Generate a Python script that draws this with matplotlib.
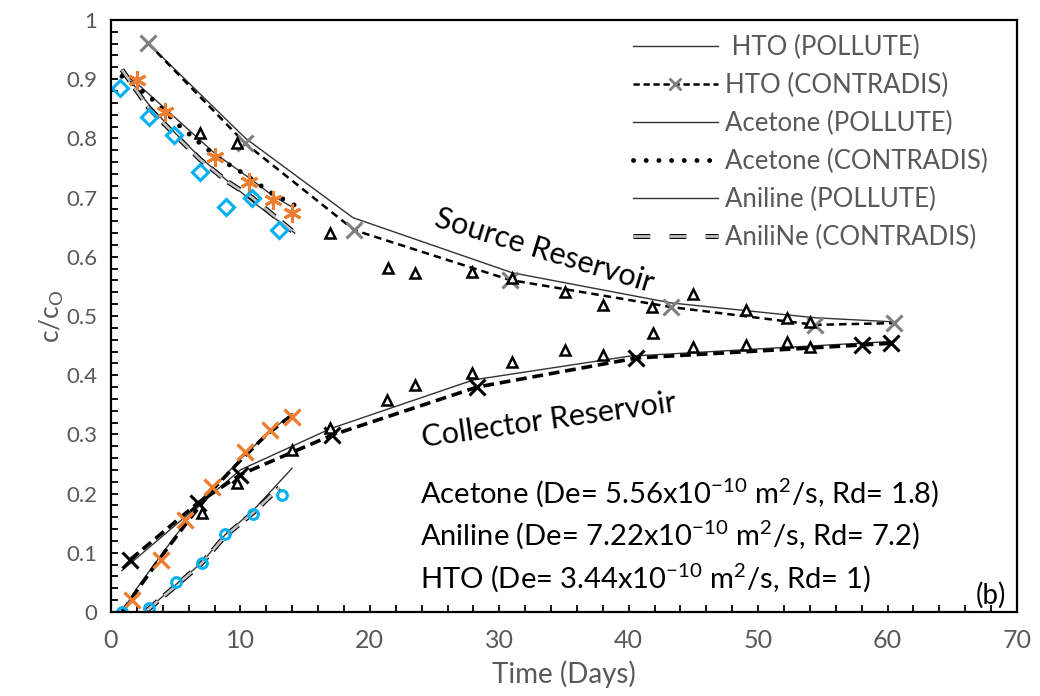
import matplotlib
matplotlib.use("Agg")
import matplotlib.pyplot as plt
import matplotlib.patheffects as pe
from matplotlib.lines import Line2D
from matplotlib.ticker import MultipleLocator

plt.rcParams['font.family'] = ['Lato', 'DejaVu Sans']
plt.rcParams['mathtext.fontset'] = 'custom'
plt.rcParams['mathtext.rm'] = 'Lato'

GRAY_TXT = '#595959'
ORANGE = '#ED7D31'
BLUE = '#00B0F0'
XGRAY = '#7f7f7f'

# ---- HTO ----
hto_src_pol_t = [2.86, 10.4, 18.7, 31.0, 43.3, 54.4, 60.5]
hto_src_pol_c = [0.961, 0.800, 0.666, 0.573, 0.522, 0.497, 0.490]
hto_src_con_t = [2.86, 10.35, 18.8, 30.8, 43.3, 54.4, 60.5]
hto_src_con_c = [0.961, 0.792, 0.645, 0.561, 0.515, 0.485, 0.488]
hto_col_pol_t = [0.85, 10.0, 17.0, 28.0, 40.0, 60.3]
hto_col_pol_c = [0.070, 0.240, 0.310, 0.392, 0.432, 0.457]
hto_col_con_t = [1.47, 6.7, 10.0, 17.1, 28.3, 40.6, 58.0, 60.3]
hto_col_con_c = [0.088, 0.184, 0.232, 0.299, 0.380, 0.429, 0.451, 0.454]

# measured HTO (triangles)
hto_src_obs_t = [6.9, 9.7, 16.9, 21.4, 23.5, 27.9, 31.0, 35.1, 38.0, 41.8, 45.0, 49.1, 52.2, 54.0]
hto_src_obs_c = [0.809, 0.792, 0.640, 0.581, 0.573, 0.574, 0.564, 0.541, 0.519, 0.515, 0.537, 0.510, 0.497, 0.490]
hto_col_obs_t = [7.0, 9.7, 14.0, 16.9, 21.3, 23.5, 27.9, 31.0, 35.1, 38.0, 41.9, 45.0, 49.1, 52.2, 54.0]
hto_col_obs_c = [0.167, 0.218, 0.274, 0.311, 0.358, 0.383, 0.404, 0.422, 0.442, 0.434, 0.471, 0.448, 0.451, 0.456, 0.448]

# ---- Acetone ----
ace_src_pol_t = [0.85, 2.0, 4.2, 8.0, 10.7, 12.5, 14.0]
ace_src_pol_c = [0.910, 0.893, 0.850, 0.775, 0.733, 0.703, 0.684]
ace_src_con_t = [0.85, 2.9, 5.4, 7.3, 9.3, 10.3, 12.3, 14.2]
ace_src_con_c = [0.905, 0.872, 0.819, 0.784, 0.753, 0.740, 0.709, 0.687]
ace_src_obs_t = [2.0, 4.2, 8.0, 10.7, 12.5, 14.0]
ace_src_obs_c = [0.899, 0.845, 0.769, 0.726, 0.696, 0.674]
ace_col_pol_t = [0.85, 2.0, 4.0, 6.0, 8.0, 10.0, 12.0, 14.0]
ace_col_pol_c = [0.000, 0.040, 0.100, 0.158, 0.212, 0.258, 0.300, 0.335]
ace_col_con_t = [0.85, 2.0, 4.0, 6.0, 8.0, 10.0, 12.0, 14.0]
ace_col_con_c = [0.000, 0.036, 0.097, 0.155, 0.210, 0.256, 0.299, 0.333]
ace_col_obs_t = [1.6, 3.9, 5.7, 7.8, 10.35, 12.3, 14.0]
ace_col_obs_c = [0.020, 0.088, 0.155, 0.211, 0.270, 0.307, 0.329]

# ---- Aniline ----
ani_src_pol_t = [0.85, 3.0, 5.0, 7.0, 9.0, 11.0, 14.2]
ani_src_pol_c = [0.916, 0.855, 0.808, 0.766, 0.728, 0.692, 0.640]
ani_src_con_t = [0.85, 2.9, 5.0, 6.9, 9.0, 10.9, 14.2]
ani_src_con_c = [0.916, 0.852, 0.805, 0.764, 0.727, 0.700, 0.640]
ani_src_obs_t = [0.7, 2.9, 4.9, 6.9, 8.9, 10.9, 13.0]
ani_src_obs_c = [0.885, 0.836, 0.806, 0.743, 0.684, 0.699, 0.645]
ani_col_pol_t = [2.8, 5.0, 7.0, 8.8, 11.0, 14.0]
ani_col_pol_c = [0.003, 0.046, 0.083, 0.130, 0.172, 0.243]
ani_col_con_t = [2.8, 5.0, 7.0, 8.8, 11.0, 13.0]
ani_col_con_c = [0.003, 0.044, 0.082, 0.128, 0.168, 0.210]
ani_col_obs_t = [0.85, 2.9, 5.0, 7.0, 8.8, 11.0, 13.2]
ani_col_obs_c = [0.000, 0.006, 0.050, 0.082, 0.132, 0.166, 0.197]

legend_labels = [' HTO (POLLUTE)', 'HTO (CONTRADIS)', 'Acetone (POLLUTE)',
                 'Acetone (CONTRADIS)', 'Aniline (POLLUTE)', 'AniliNe (CONTRADIS)']

fig = plt.figure(figsize=(10.4, 6.96), dpi=100)
ax = fig.add_axes([0.1067, 0.1207, 0.8712, 0.8506])

thin = dict(color='#333333', lw=1.0)
dash_thick = dict(color='black', lw=2.6, ls=(0, (3, 1.6)))
dash_thin = dict(color='black', lw=1.8, ls=(0, (3, 2)))
dotted = dict(color='black', lw=3.5, ls=(0, (0.01, 2.6)), dash_capstyle='round')
ani_dash = dict(color='#bfbfbf', lw=2.0, ls=(0, (5, 3)),
                path_effects=[pe.Stroke(linewidth=3.6, foreground='black'), pe.Normal()])

# model curves
ax.plot(hto_src_pol_t, hto_src_pol_c, **thin)
ax.plot(hto_src_con_t, hto_src_con_c, **dash_thin)
ax.plot(hto_col_pol_t, hto_col_pol_c, **thin)
ax.plot(hto_col_con_t, hto_col_con_c, **dash_thick)
ax.plot(ace_src_pol_t, ace_src_pol_c, **thin)
ax.plot(ace_src_con_t, ace_src_con_c, **dotted)
ax.plot(ace_col_pol_t, ace_col_pol_c, **thin)
ax.plot(ace_col_con_t, ace_col_con_c, **dash_thick)
ax.plot(ani_src_pol_t, ani_src_pol_c, **thin)
ax.plot(ani_src_con_t, ani_src_con_c, **ani_dash)
ax.plot(ani_col_pol_t, ani_col_pol_c, **thin)
ax.plot(ani_col_con_t, ani_col_con_c, **ani_dash)

# markers
ax.plot(hto_src_con_t, hto_src_con_c, ls='none', marker='x', ms=11, mew=2.2, color=XGRAY)
ax.plot(hto_col_con_t, hto_col_con_c, ls='none', marker='x', ms=11, mew=2.2, color='black')
ax.plot(hto_src_obs_t, hto_src_obs_c, ls='none', marker='^', ms=6.5, mew=1.8,
        mfc='white', mec='black')
ax.plot(hto_col_obs_t, hto_col_obs_c, ls='none', marker='^', ms=6.5, mew=1.8,
        mfc='white', mec='black')
ax.plot(ace_src_obs_t, ace_src_obs_c, ls='none', marker=(6, 2, 0), ms=13, mew=2.2, color=ORANGE)
ax.plot(ace_col_obs_t, ace_col_obs_c, ls='none', marker='x', ms=11, mew=2.4, color=ORANGE)
ax.plot(ani_src_obs_t, ani_src_obs_c, ls='none', marker='D', ms=8, mew=2.2,
        mfc='none', mec=BLUE)
ax.plot(ani_col_obs_t, ani_col_obs_c, ls='none', marker='o', ms=7, mew=2.2,
        mfc='none', mec=BLUE)

ax.set_xlim(0, 70)
ax.set_ylim(0, 1)
ax.xaxis.set_major_locator(MultipleLocator(10))
ax.xaxis.set_minor_locator(MultipleLocator(2))
ax.yaxis.set_major_locator(MultipleLocator(0.1))
ax.yaxis.set_minor_locator(MultipleLocator(0.02))
ax.yaxis.set_major_formatter(plt.FuncFormatter(lambda v, p: f"{v:g}"))
ax.tick_params(which='both', direction='in', length=5, width=1.3, colors='black',
               labelcolor=GRAY_TXT, top=False, right=False)
ax.tick_params(axis='x', pad=12, labelsize=18)
ax.tick_params(axis='y', pad=10, labelsize=16)
for s in ax.spines.values():
    s.set_linewidth(1.6)
    s.set_color('black')

ax.set_xlabel('Time (Days)', fontsize=20, color=GRAY_TXT, labelpad=6)
ax.set_ylabel(r'c/c$_\mathregular{O}$', fontsize=19, color=GRAY_TXT, labelpad=0)

ax.text(33.5, 0.611, 'Source Reservoir', rotation=-17, fontsize=22,
        ha='center', va='center', rotation_mode='anchor')
ax.text(33.8, 0.324, 'Collector Reservoir', rotation=8, fontsize=22,
        ha='center', va='center', rotation_mode='anchor')
ax.text(23.9, 0.201, r'Acetone (De= 5.56x10$^{\mathregular{-10}}$ m$^{\mathregular{2}}$/s, Rd= 1.8)',
        fontsize=21, va='center')
ax.text(23.9, 0.130, r'Aniline (De= 7.22x10$^{\mathregular{-10}}$ m$^{\mathregular{2}}$/s, Rd= 7.2)',
        fontsize=21, va='center')
ax.text(23.9, 0.057, r'HTO (De= 3.44x10$^{\mathregular{-10}}$ m$^{\mathregular{2}}$/s, Rd= 1)',
        fontsize=21, va='center')
ax.text(68.0, 0.028, '(b)', fontsize=20, ha='center', va='center')

handles = [
    Line2D([], [], **thin),
    Line2D([], [], color='black', lw=1.8, ls=(0, (2.5, 1.5)), marker='x', ms=9,
           mew=2, mec=XGRAY),
    Line2D([], [], **thin),
    Line2D([], [], **dotted),
    Line2D([], [], **thin),
    Line2D([], [], color='#bfbfbf', lw=2.0, ls=(0, (6, 7)),
           path_effects=[pe.Stroke(linewidth=3.6, foreground='black'), pe.Normal()]),
]
leg = ax.legend(handles, legend_labels, loc='upper right', frameon=False, fontsize=18.5,
                handlelength=3.3, handletextpad=0.3, labelspacing=0.5, numpoints=1,
                bbox_to_anchor=(0.985, 1.0), borderaxespad=0.2)
for t in leg.get_texts():
    t.set_color(GRAY_TXT)

fig.savefig('out.png', dpi=100)
